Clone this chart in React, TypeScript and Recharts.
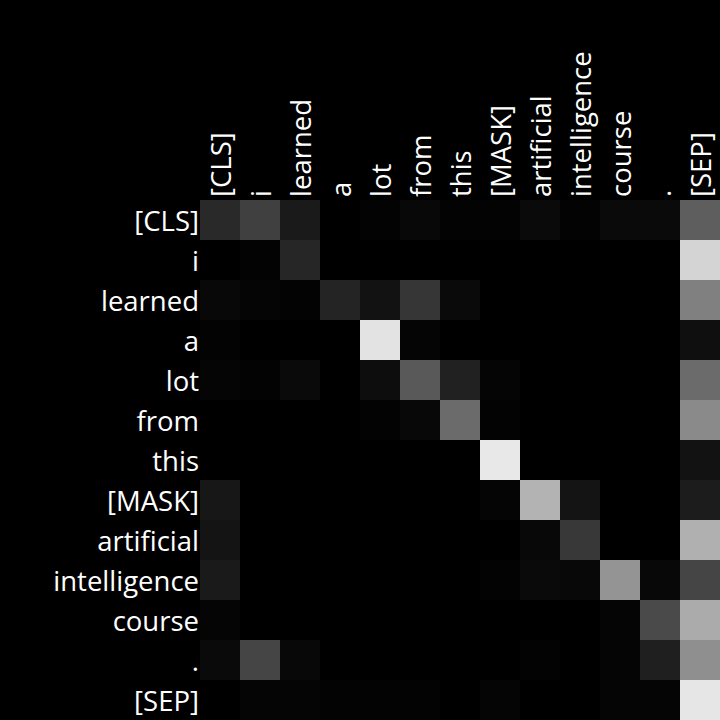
import { Scatter, ScatterChart, XAxis, YAxis } from 'recharts'

// tokens (row = query, column = key)
const tokens = ['[CLS]', 'i', 'learned', 'a', 'lot', 'from', 'this', '[MASK]', 'artificial', 'intelligence', 'course', '.', '[SEP]']

// attention weights, one row per query token
const rowCls = [0.16, 0.25, 0.1, 0.0, 0.01, 0.03, 0.01, 0.01, 0.04, 0.01, 0.04, 0.04, 0.37]
const rowI = [0.0, 0.01, 0.15, 0.0, 0.0, 0.0, 0.0, 0.0, 0.0, 0.0, 0.0, 0.0, 0.83]
const rowLearned = [0.03, 0.02, 0.01, 0.14, 0.07, 0.21, 0.04, 0.0, 0.0, 0.0, 0.0, 0.0, 0.5]
const rowA = [0.01, 0.0, 0.0, 0.0, 0.89, 0.02, 0.0, 0.0, 0.0, 0.0, 0.0, 0.0, 0.06]
const rowLot = [0.02, 0.01, 0.04, 0.0, 0.05, 0.35, 0.13, 0.02, 0.0, 0.0, 0.0, 0.0, 0.42]
const rowFrom = [0.0, 0.0, 0.0, 0.0, 0.01, 0.03, 0.42, 0.01, 0.0, 0.0, 0.0, 0.0, 0.54]
const rowThis = [0.0, 0.0, 0.0, 0.0, 0.0, 0.0, 0.0, 0.91, 0.0, 0.0, 0.0, 0.0, 0.07]
const rowMask = [0.09, 0.0, 0.0, 0.0, 0.0, 0.0, 0.0, 0.02, 0.7, 0.08, 0.0, 0.0, 0.11]
const rowArtificial = [0.08, 0.0, 0.0, 0.0, 0.0, 0.0, 0.0, 0.0, 0.03, 0.22, 0.0, 0.0, 0.69]
const rowIntelligence = [0.1, 0.0, 0.0, 0.0, 0.0, 0.0, 0.0, 0.01, 0.04, 0.03, 0.58, 0.03, 0.27]
const rowCourse = [0.02, 0.0, 0.0, 0.0, 0.0, 0.0, 0.0, 0.0, 0.0, 0.0, 0.02, 0.29, 0.67]
const rowDot = [0.04, 0.27, 0.03, 0.0, 0.0, 0.0, 0.0, 0.0, 0.01, 0.0, 0.02, 0.12, 0.56]
const rowSep = [0.0, 0.02, 0.02, 0.01, 0.01, 0.01, 0.0, 0.02, 0.0, 0.0, 0.02, 0.02, 0.9]

const rows = [
  rowCls, rowI, rowLearned, rowA, rowLot, rowFrom, rowThis,
  rowMask, rowArtificial, rowIntelligence, rowCourse, rowDot, rowSep,
]

const cells = rows.flatMap((r, y) => r.map((v, x) => ({ x, y, v })))
const ticks = tokens.map((_, i) => i)

const SIZE = 720
const AXIS = 200
const CELL = (SIZE - AXIS) / tokens.length
const FONT = '"Open Sans", "Noto Sans", sans-serif'
const FS = 27.5

const gray = (v: number) => {
  const g = Math.round(Math.min(1, v) * 255)
  return `rgb(${g},${g},${g})`
}

function CellShape(props: any) {
  const { cx, cy, payload } = props
  return <rect x={cx - CELL / 2} y={cy - CELL / 2} width={CELL} height={CELL} fill={gray(payload.v)} />
}

function ColTick({ x, y, payload }: any) {
  return (
    <text transform={`translate(${x},${y}) rotate(-90)`} textAnchor="start" dominantBaseline="central"
      fill="#fff" fontSize={FS} fontFamily={FONT}>
      {tokens[payload.value]}
    </text>
  )
}

function RowTick({ x, y, payload }: any) {
  return (
    <text x={x} y={y} textAnchor="end" dominantBaseline="central" fill="#fff" fontSize={FS} fontFamily={FONT}>
      {tokens[payload.value]}
    </text>
  )
}

export default function App() {
  return (
    <div style={{ position: 'absolute', left: 0, top: 0, width: SIZE, height: SIZE, background: '#000' }}>
      <ScatterChart width={SIZE} height={SIZE} margin={{ top: 0, right: 0, bottom: 0, left: 0 }}>
        <XAxis dataKey="x" type="number" orientation="top" domain={[-0.5, tokens.length - 0.5]} ticks={ticks}
          interval={0} height={AXIS} axisLine={false} tickLine={false} tickSize={0} tickMargin={3} tick={<ColTick />} />
        <YAxis dataKey="y" type="number" reversed domain={[-0.5, tokens.length - 0.5]} ticks={ticks}
          interval={0} width={AXIS} axisLine={false} tickLine={false} tickSize={0} tickMargin={1} tick={<RowTick />} />
        <Scatter data={cells} shape={<CellShape />} isAnimationActive={false} />
      </ScatterChart>
    </div>
  )
}
